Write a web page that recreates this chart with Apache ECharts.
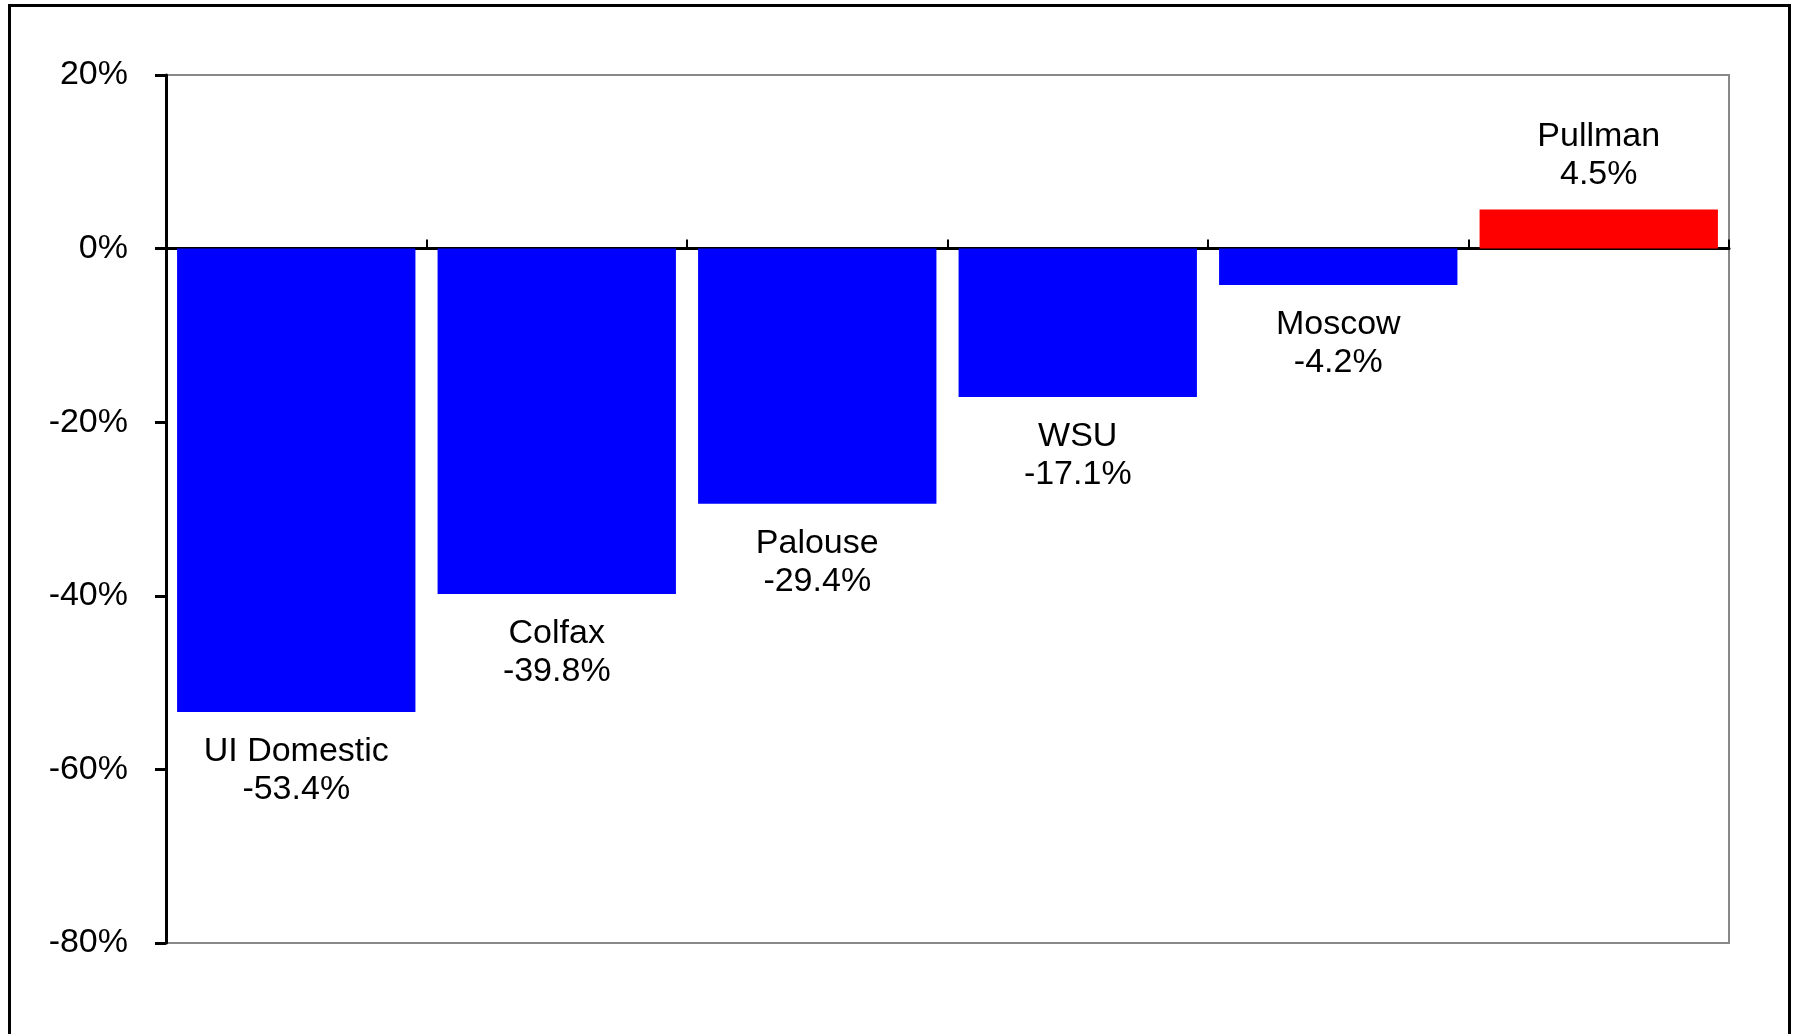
<!DOCTYPE html>
<html>
<head>
<meta charset="utf-8">
<style>
html,body{margin:0;padding:0;background:#fff;}
#chart{width:1798px;height:1034px;}
</style>
<script src="https://cdn.jsdelivr.net/npm/echarts@6/dist/echarts.min.js"></script>
</head>
<body>
<div id="chart"></div>
<script>
const categories = ['UI Domestic', 'Colfax', 'Palouse', 'WSU', 'Moscow', 'Pullman'];
const values = [-53.4, -39.8, -29.4, -17.1, -4.2, 4.5];
const yTicks = [-80, -60, -40, -20, 0, 20];

const FONT = '"Liberation Sans", Arial, sans-serif';
const chart = echarts.init(document.getElementById('chart'));

const seriesData = values.map(function (v, i) {
  return {
    value: v,
    itemStyle: { color: v >= 0 ? '#FF0000' : '#0000FF' },
    label: { position: v >= 0 ? 'top' : 'bottom', distance: v >= 0 ? 16 : 21 }
  };
});

chart.setOption({
  animation: false,
  backgroundColor: '#fff',
  graphic: [{
    type: 'rect',
    shape: { x: 9.5, y: 5.5, width: 1780, height: 1040 },
    style: { fill: 'none', stroke: '#000', lineWidth: 3 },
    z: 100
  }],
  grid: {
    left: 166, top: 75, right: 69, bottom: 91,
    show: true, borderColor: '#888', borderWidth: 2, backgroundColor: 'transparent'
  },
  xAxis: {
    type: 'category',
    data: categories,
    boundaryGap: true,
    axisLine: { show: true, onZero: true, lineStyle: { color: '#000', width: 3 } },
    axisTick: { show: true, inside: true, length: 9, lineStyle: { color: '#000', width: 2 } },
    axisLabel: { show: false },
    splitLine: { show: false }
  },
  yAxis: {
    type: 'value',
    min: yTicks[0],
    max: yTicks[yTicks.length - 1],
    interval: 20,
    axisLine: { show: true, lineStyle: { color: '#000', width: 3 } },
    axisTick: { show: true, length: 11, lineStyle: { color: '#000', width: 3 } },
    axisLabel: {
      margin: 38,
      color: '#000',
      fontSize: 34,
      fontFamily: FONT,
      padding: [3, 0, 0, 0],
      formatter: function (v) { return v + '%'; }
    },
    splitLine: { show: false }
  },
  series: [{
    type: 'bar',
    data: seriesData,
    barCategoryGap: '8.5%',
    label: {
      show: true,
      color: '#000',
      fontSize: 34,
      fontFamily: FONT,
      lineHeight: 38,
      formatter: function (p) {
        return categories[p.dataIndex] + '\n' + values[p.dataIndex].toFixed(1) + '%';
      }
    }
  }]
});
</script>
</body>
</html>
